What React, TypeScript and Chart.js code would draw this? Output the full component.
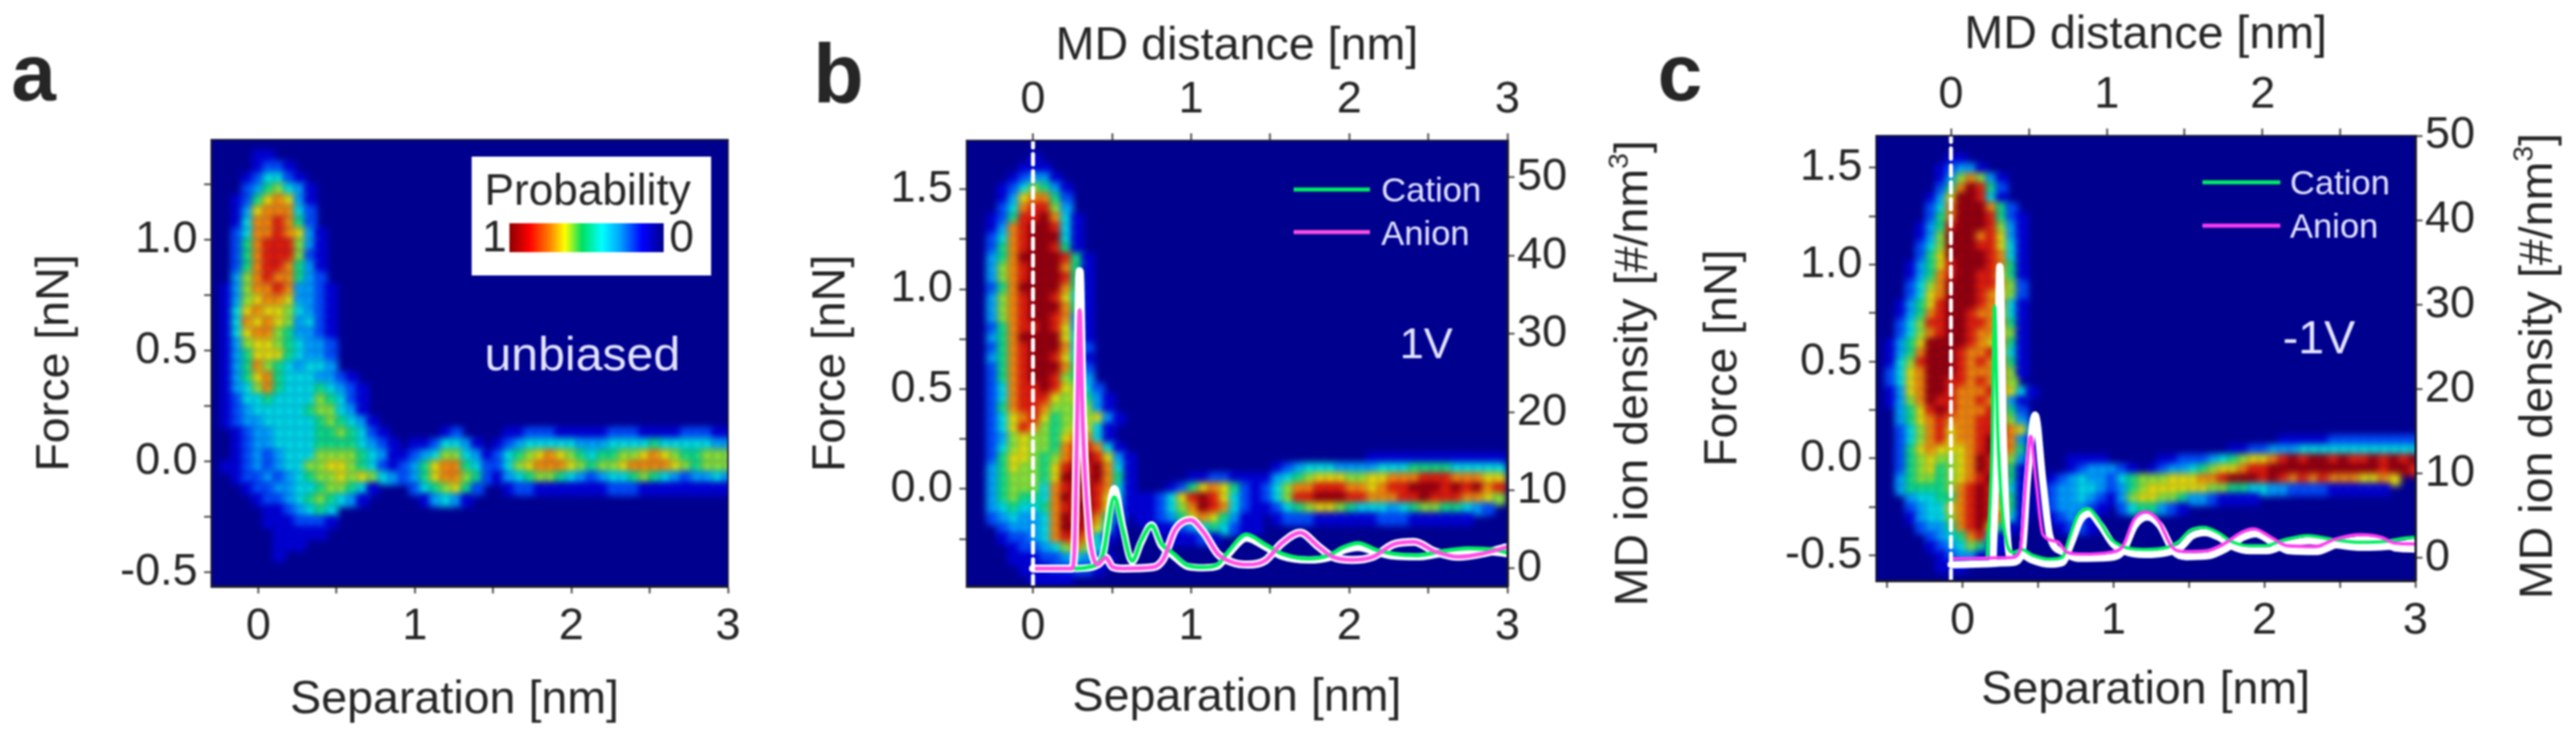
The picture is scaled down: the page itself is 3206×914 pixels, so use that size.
import React, { useEffect, useRef } from "react";
import { Chart, registerables } from "chart.js";
Chart.register(...registerables);

const FONT = "'Liberation Sans', Arial, sans-serif";
const INK = "#262626";
const PALE = "#e4e4ff";
const GREEN = "#00f060";
const MAGENTA = "#ff50e6";
const DEEP = "#00008f";

// heat colours, index = digit in the rows below (0 = background)
const heatPalette = ["", "#0000d8", "#0050ff", "#00a8ff", "#00e8e8", "#10e880", "#90f030", "#f0e800", "#ff9000", "#f02000", "#a00000"];

// ---------- panel a ----------
const heatCoreA = [
  "", "....11", "....1221", "...124421", "...2356431", "..12578731", "..13788842", "..14889852",
  "..248898731", "..258999631", "..258999621", "..258998531", "..368988532", ".13688983321", ".13678873321",
  ".14787764321", ".14878763421", ".14788653321", ".13677654332", ".13577754332", ".13586543443",
  ".1357854443321", ".13468544454321", ".12445444465421", ".12344444566431", ".123344444565431",
  "..123344445565421", "..1233444455554321", "..1232344466665431", ".1123234466776542", "..12232345667676431",
  "...1223344566541", "....12234565431", ".....1123454", ".....1112221", "......11111", "......111", "......1", "", "",
];
const heatBandA = [
  ".....12....1122211111222111122211",
  "..1124431.12344444333444454444433",
  "112346643124567876545566787655666",
  "123578854224678887656678888765666",
  ".23578865213456654323445654323343",
  "..2456752..1221111111222111111111",
  "...13431",
];

// ---------- panel b ----------
const heatCoreB = [
  "", "......1", ".....111", "....12331", "...1246531", "...1378852", "...2489963", "..12599a841", "..1389aa941",
  "..2489aaa41", "..2589aa951", "..358aaaa951", "..3689aaa851", "..3689aaa951", "..258aaaa851", "..3689aa9741",
  "..3689aaa851", "..3689aa9831", "..25899a9731", "..358aaaa741", "..2589aaa842", "..3589aa9741", "..2589aaa852",
  "..2589aa9653", "..24899a97642", "..248999767531", "..258998666631", "..2478975666731", "..247986567741",
  "..236766578841", "..2467665899841", "..257765689a9731", "..35766579a9a841", "..3566657aa9a851", "..35666489aa9841",
  "..3565548a9a9741", "..34544589aa9731", "..2343348a9a852", "...233348aa9741", "...12234899841", "....122346864",
  "....1112234321", ".....11122221", "......1111", "",
];
const heatBandB = [
  "......................1111111111111",
  ".............1234443333444555544444",
  ".....112211113456777667788899988877",
  "...12578752124688999887899aaa9a9a89",
  "112479a974212469 9aaa9988899a9998876".replace(" ", ""),
  "112468a984211245677654443456655432",
  "112357875311.1222111111222111111",
  ".11123454211",
  "...11121",
];

// ---------- panel c ----------
const heatCoreC = [
  "", "", ".......11", "......12331", "......1368631", "......258a952", ".....137aa941", ".....248aaa852",
  ".....258aaa9521", "....1359aaa9631", "....136aaa89731", "....246aaa99741", "....257aaaa9841", "...13579aaa9851",
  "...13589aa99751", "...2468aaa99862", "...2478aaa98762", "..13579aaa98841", "..13589aa988741", "..24699aa998851",
  "..24689aa988761", ".1357aaaa987851", ".1358aaa9889741", ".1469aaa9898851", ".2478aaa9888861", ".2478aa9989886",
  ".1378aa988898741", ".1368a998898731", "..3579a98889852", "..3578988899863", "..2468978899a873", "..246897889a9831",
  "..257877789a9851", "..25676678a98631", "..25675678a9951", "..356656789a951", "..35555689a9841", "...3445589a9851",
  "...2344789a9751", "...1344689a9841", "....233589a751", ".....23458941", ".....12346521", "......12331", "......111", "",
];
const heatBandC = [
  "........................11111222222222",
  "...................1122333444444444444",
  "...1111.....1122234567789a9aa9a99a9a9a",
  "...1233321.123345677899aaaaaaaaaaa9aa9",
  ".1234332456667778 89aaa9a989898887787".replace(" ", ""),
  "12334432356777777665544332222111111",
  "1233432136776653321111",
  "1233321.2455321",
  ".12321",
  "..1221",
];

// ---------- ion density, panel b ----------
const cationXB = [0.27, 0.35, 0.44, 0.514, 0.567, 0.627, 0.685, 0.75, 0.81, 0.89, 0.974, 1.08, 1.167, 1.23, 1.35, 1.467, 1.574, 1.745, 1.87, 1.96, 2.056, 2.17, 2.28, 2.43, 2.58, 2.75, 2.92, 3];
const cationYB = [0, 0.17, 1.7, 9.1, 5, 1, 3.6, 5.5, 3.2, 1.9, 0.45, 0.17, 0.5, 2.05, 4.35, 3.1, 1.9, 1.27, 1.7, 2.7, 3.25, 2.4, 1.9, 1.7, 2.2, 2.6, 2.4, 2.05];
const haloCationYB = [0, 0.1, 1.6, 10.2, 5.4, 0.9, 3.4, 5.6, 3, 1.6, 0.3, 0.1, 0.3, 1.7, 3.9, 2.8, 1.6, 1.1, 1.4, 2.3, 2.7, 2.1, 1.6, 1.5, 1.9, 2.2, 2.1, 1.9];
const anionXB = [0, 0.246, 0.263, 0.275, 0.295, 0.315, 0.353, 0.375, 0.407, 0.46, 0.503, 0.567, 0.76, 0.824, 0.9, 0.996, 1.08, 1.167, 1.253, 1.36, 1.467, 1.574, 1.69, 1.8, 1.895, 2.02, 2.15, 2.28, 2.41, 2.54, 2.69, 2.84, 2.99];
const anionYB = [0, 0, 2.9, 14, 33, 18, 5, 1.9, 0.5, 1.4, 0.2, 0, 0.17, 1.2, 5, 6.2, 4.6, 1.9, 0.86, 0.5, 1, 3.25, 4.6, 2.9, 1.5, 1.1, 1.5, 3.1, 3.4, 2.2, 1.5, 1.9, 2.7];
const haloAnionYB = [0, 0, 3, 16, 38, 20, 5, 1.9, 0.5, 1.4, 0.2, 0, 0.17, 1.2, 5, 6.2, 4.6, 1.9, 0.86, 0.5, 1, 3.25, 4.6, 2.9, 1.5, 1.1, 1.5, 3.1, 3.4, 2.2, 1.5, 1.9, 2.7];

// ---------- ion density, panel c ----------
const cationXC = [0.233, 0.262, 0.28, 0.3, 0.327, 0.356, 0.4, 0.456, 0.52, 0.635, 0.714, 0.758, 0.814, 0.88, 0.95, 1.027, 1.105, 1.24, 1.396, 1.463, 1.53, 1.62, 1.71, 1.8, 1.91, 2.02, 2.13, 2.29, 2.447, 2.63, 2.78, 2.92, 2.98];
const cationYC = [0, 12, 29.8, 15, 6, 1.9, 0.6, 0.95, 0.3, -0.2, 0, 2.2, 5, 5.8, 4.4, 2.2, 1.3, 0.95, 1.26, 1.9, 3.15, 3.56, 3, 1.9, 1.4, 1.4, 2.05, 2.6, 2.15, 1.8, 1.9, 2.3, 2.4];
const haloCationXC = [0.27, 0.295, 0.314, 0.335, 0.36, 0.39, 0.456, 0.52, 0.635, 0.714, 0.77, 0.83, 0.89, 0.96, 1.04, 1.12, 1.24, 1.4, 1.48, 1.545, 1.63, 1.72, 1.81, 1.92, 2.03, 2.14, 2.3, 2.46, 2.64, 2.79, 2.98];
const haloCationYC = [-0.6, 15, 34.5, 15, 3, -0.3, 0.3, -0.3, -0.8, -0.6, 1.6, 4.4, 5.2, 3.8, 1.6, 0.7, 0.35, 0.66, 1.3, 2.55, 2.96, 2.4, 1.3, 0.8, 0.8, 1.45, 2, 1.55, 1.2, 1.3, 1.8];
const anionXC = [0, 0.39, 0.445, 0.48, 0.512, 0.546, 0.59, 0.68, 0.747, 0.837, 1.016, 1.105, 1.172, 1.25, 1.33, 1.418, 1.5, 1.64, 1.75, 1.866, 1.944, 2.045, 2.157, 2.335, 2.47, 2.626, 2.76, 2.85, 2.98];
const anionYC = [-0.15, 0, 0.95, 9, 14.35, 9, 2.7, 1.9, 0.6, 0.4, 0.6, 1.4, 4.4, 5.4, 4.4, 1.26, 0.7, 0.8, 1.6, 3, 3.4, 2.5, 1.4, 1.3, 2.2, 2.7, 2.4, 1.7, 1.6];
const haloAnionXC = [0, 0.39, 0.456, 0.49, 0.54, 0.59, 0.635, 0.725, 0.814, 1.016, 1.105, 1.18, 1.26, 1.34, 1.43, 1.51, 1.65, 1.76, 1.875, 1.955, 2.055, 2.17, 2.345, 2.48, 2.64, 2.77, 2.86, 2.98];
const haloAnionYC = [-0.85, -0.6, 0.5, 9, 16.9, 9, 2.5, 0.6, -0.1, 0, 0.8, 3.8, 4.8, 3.8, 0.7, 0.1, 0.2, 1, 2.4, 2.8, 1.9, 0.8, 0.7, 1.6, 2.1, 1.8, 1.1, 1];

// ---------- tick settings ----------
const bottomStep = 0.5;
const forceStep = 0.25;
const densityStep = 10;

const pts = (xs: number[], ys: number[]) => xs.map((x, i) => ({ x, y: ys[i] }));

function heatDataset(core: string[], band: string[], bandCol: number, bandRow: number, x0: number, dx: number, y0: number, dy: number, radius: number) {
  const data: { x: number; y: number }[] = [];
  const colors: string[] = [];
  core.forEach((row, r) => {
    const other = band[r - bandRow] || "";
    const len = Math.max(row.length, bandCol + other.length);
    for (let i = 0; i < len; i++) {
      const a = i < row.length ? parseInt(row[i], 16) || 0 : 0;
      const b = i >= bandCol && i - bandCol < other.length ? parseInt(other[i - bandCol], 16) || 0 : 0;
      const v = Math.max(a, b);
      if (v > 0) {
        data.push({ x: x0 + (i + 0.5) * dx, y: y0 - (r + 0.5) * dy });
        colors.push(heatPalette[v]);
      }
    }
  });
  return {
    label: "Probability", data, order: 20, xAxisID: "x", yAxisID: "y", showLine: false,
    pointStyle: "rect", pointRadius: radius, pointBorderWidth: 0, pointHoverRadius: radius, pointBackgroundColor: colors,
  };
}

const lineSet = (label: string, data: any[], color: string, width: number, order: number) => ({
  label, data, order, xAxisID: "xTop", yAxisID: "yRight", showLine: true, borderColor: color, borderWidth: width,
  pointRadius: 0, cubicInterpolationMode: "monotone", borderJoinStyle: "round", borderCapStyle: "round",
});

type TextItem = { t: string; x: number; y: number; size: number; color: string; weight?: string; rot?: boolean; sup?: [string, string] };

function decoPlugin(items: TextItem[], lines: [number, number, number, string][], box: boolean, ox: number) {
  return {
    id: "deco",
    beforeDatasetsDraw(chart: any) {
      const { ctx, chartArea: c } = chart;
      ctx.save();
      ctx.fillStyle = DEEP;
      ctx.fillRect(c.left, c.top, c.right - c.left, c.bottom - c.top);
      ctx.restore();
    },
    beforeDatasetDraw(chart: any, args: any) {
      if (args.index === 0) { chart.ctx.save(); chart.ctx.filter = "blur(4px)"; }
    },
    afterDatasetDraw(chart: any, args: any) {
      if (args.index === 0) chart.ctx.restore();
    },
    afterDatasetsDraw(chart: any) {
      const { ctx, chartArea: c } = chart;
      ctx.save();
      ctx.strokeStyle = "#1a1a33";
      ctx.lineWidth = 2;
      ctx.strokeRect(c.left, c.top, c.right - c.left, c.bottom - c.top);
      if (box) {
        ctx.fillStyle = "#fff";
        ctx.fillRect(587 - ox, 195, 298, 148);
        const g = ctx.createLinearGradient(634 - ox, 0, 826 - ox, 0);
        const stops: [number, string][] = [[0, "#8b0000"], [0.13, "#ff0000"], [0.26, "#ff8000"], [0.36, "#ffff00"], [0.47, "#00e060"], [0.6, "#00ffff"], [0.72, "#00a0ff"], [0.86, "#0000ff"], [1, "#00008b"]];
        stops.forEach(([p, col]) => g.addColorStop(p, col));
        ctx.fillStyle = g;
        ctx.fillRect(634 - ox, 278, 192, 36);
      }
      lines.forEach(([x1, x2, y, col]) => {
        ctx.strokeStyle = col;
        ctx.lineWidth = 5;
        ctx.beginPath();
        ctx.moveTo(x1 - ox, y);
        ctx.lineTo(x2 - ox, y);
        ctx.stroke();
      });
      items.forEach((it) => {
        ctx.save();
        ctx.fillStyle = it.color;
        ctx.font = `${it.weight || "normal"} ${it.size}px ${FONT}`;
        ctx.textBaseline = "alphabetic";
        ctx.translate(it.x - ox, it.y);
        if (it.rot) ctx.rotate(-Math.PI / 2);
        ctx.fillText(it.t, 0, 0);
        if (it.sup) {
          let w = ctx.measureText(it.t).width;
          ctx.font = `${Math.round(it.size * 0.6)}px ${FONT}`;
          ctx.fillText(it.sup[0], w, -it.size * 0.42);
          w += ctx.measureText(it.sup[0]).width;
          ctx.font = `${it.size}px ${FONT}`;
          ctx.fillText(it.sup[1], w, 0);
        }
        ctx.restore();
      });
      ctx.restore();
    },
  };
}

const tickFont = { family: FONT, size: 56 };
const titleFont = { family: FONT, size: 58 };
const axisGrid = { drawOnChartArea: false, drawTicks: true, tickLength: 9, tickColor: "#333", tickWidth: 2 };
const axisBorder = { display: true, color: "#111", width: 3 };
const fixH = (h: number) => (s: any) => { s.height = h; };
const fixW = (w: number) => (s: any) => { s.width = w; };
const intLabel = (v: any) => (Number.isInteger(v) ? String(v) : "");
const forceLabel = (v: any) => (Math.abs((v * 2) % 1) < 1e-6 ? Number(v).toFixed(1) : "");

function xAxis(min: number, max: number, pos: string, size: number, title: string | null, titlePad: any, pad: number) {
  return {
    type: "linear", position: pos, min, max, afterFit: fixH(size),
    grid: axisGrid, border: axisBorder,
    ticks: { stepSize: bottomStep, includeBounds: false, autoSkip: false, maxRotation: 0, callback: intLabel, font: tickFont, color: INK, padding: pad },
    title: title ? { display: true, text: title, font: titleFont, color: INK, padding: titlePad } : { display: false },
  };
}
function yForce(min: number, max: number, size: number, titleTop: number) {
  return {
    type: "linear", position: "left", min, max, afterFit: fixW(size),
    grid: axisGrid, border: axisBorder,
    ticks: { stepSize: forceStep, includeBounds: false, autoSkip: false, callback: forceLabel, font: tickFont, color: INK, padding: 8 },
    title: { display: true, text: "Force [nN]", font: titleFont, color: INK, padding: { top: titleTop, bottom: 0 } },
  };
}
function yDensity(min: number, max: number, size: number) {
  return {
    type: "linear", position: "right", min, max, afterFit: fixW(size),
    grid: axisGrid, border: axisBorder,
    ticks: { stepSize: densityStep, includeBounds: false, autoSkip: false, callback: intLabel, font: tickFont, color: INK, padding: 3 },
  };
}

function baseOptions(scales: any, padding: any) {
  return {
    responsive: false, animation: false, maintainAspectRatio: false, events: [],
    layout: { padding },
    plugins: { legend: { display: false }, tooltip: { enabled: false } },
    scales,
  };
}

export default function App() {
  const ra = useRef<HTMLCanvasElement>(null);
  const rb = useRef<HTMLCanvasElement>(null);
  const rc = useRef<HTMLCanvasElement>(null);
  useEffect(() => {
    document.body.style.margin = "0";
    const a = new Chart(ra.current as any, {
      type: "scatter",
      data: { datasets: [heatDataset(heatCoreA, heatBandA, 17, 26, -0.3, 0.0667, 1.45, 0.05, 11)] as any },
      options: baseOptions(
        { x: xAxis(-0.3, 3, "bottom", 184, null, 0, 8), y: yForce(-0.563, 1.45, 263, 34) },
        { top: 174, right: 94, left: 0, bottom: 0 },
      ) as any,
      plugins: [decoPlugin([
        { t: "a", x: 14, y: 125, size: 100, color: INK, weight: "bold" },
        { t: "Separation [nm]", x: 361, y: 888, size: 58, color: INK },
        { t: "Probability", x: 603, y: 255, size: 55, color: INK },
        { t: "1", x: 600, y: 313, size: 55, color: INK },
        { t: "0", x: 833, y: 313, size: 55, color: INK },
        { t: "unbiased", x: 603, y: 461, size: 60, color: PALE },
      ], [], true, 0)] as any,
    });
    const b = new Chart(rb.current as any, {
      type: "scatter",
      data: {
        datasets: [
          heatDataset(heatCoreB, heatBandB, 16, 31, -0.42, 0.0667, 1.725, 0.05, 11),
          lineSet("Cation halo", pts(cationXB, haloCationYB), "#ffffff", 9, 9),
          lineSet("Anion halo", pts(anionXB, haloAnionYB), "#ffffff", 10, 8),
          lineSet("Cation", pts(cationXB, cationYB), GREEN, 5, 7),
          lineSet("Anion", pts(anionXB, anionYB), MAGENTA, 5, 6),
          { ...lineSet("Zero", [{ x: 0, y: -2.26 }, { x: 0, y: 54.7 }], "#ffffff", 5, 5), borderDash: [13, 8] },
        ] as any,
      },
      options: baseOptions(
        {
          x: xAxis(-0.42, 3, "bottom", 184, "Separation [nm]", { top: 0, bottom: 10 }, 8),
          xTop: xAxis(-0.42, 3, "top", 175, "MD distance [nm]", { top: 23, bottom: 0 }, 8),
          y: yForce(-0.486, 1.743, 203, 0),
          yRight: yDensity(-2.26, 54.7, 204),
        },
        0,
      ) as any,
      plugins: [decoPlugin([
        { t: "b", x: 1012, y: 127, size: 103, color: INK, weight: "bold" },
        { t: "Cation", x: 1719, y: 251, size: 43, color: PALE },
        { t: "Anion", x: 1719, y: 305, size: 43, color: PALE },
        { t: "1V", x: 1742, y: 446, size: 54, color: PALE },
        { t: "MD ion density [#/nm", x: 2050, y: 755, size: 58, color: INK, rot: true, sup: ["3", "]"] },
      ], [[1610, 1705, 236, GREEN], [1610, 1705, 289, MAGENTA]], false, 1000)] as any,
    });
    const c = new Chart(rc.current as any, {
      type: "scatter",
      data: {
        datasets: [
          heatDataset(heatCoreC, heatBandC, 16, 31, -0.573, 0.0667, 1.665, 0.05, 10.5),
          lineSet("Cation halo", pts(haloCationXC, haloCationYC), "#ffffff", 9, 9),
          lineSet("Anion halo", pts(haloAnionXC, haloAnionYC), "#ffffff", 9, 8),
          lineSet("Cation", pts(cationXC, cationYC), GREEN, 4, 7),
          lineSet("Anion", pts(anionXC, anionYC), "#ff3cf0", 4, 6),
          { ...lineSet("Zero", [{ x: 0, y: -2.74 }, { x: 0, y: 50 }], "#ffffff", 5, 5), borderDash: [13, 8] },
        ] as any,
      },
      options: baseOptions(
        {
          x: xAxis(-0.573, 3, "bottom", 191, "Separation [nm]", { top: 0, bottom: 19 }, 8),
          xTop: xAxis(-0.48, 2.98, "top", 169, "MD distance [nm]", { top: 9, bottom: 0 }, 8),
          y: yForce(-0.63, 1.665, 285, 60),
          yRight: yDensity(-2.74, 50, 200),
        },
        0,
      ) as any,
      plugins: [decoPlugin([
        { t: "c", x: 2063, y: 125, size: 100, color: INK, weight: "bold" },
        { t: "Cation", x: 2850, y: 242, size: 43, color: PALE },
        { t: "Anion", x: 2850, y: 296, size: 43, color: PALE },
        { t: "-1V", x: 2841, y: 440, size: 58, color: PALE },
        { t: "MD ion density [#/nm", x: 3176, y: 746, size: 58, color: INK, rot: true, sup: ["3", "]"] },
      ], [[2741, 2838, 227, GREEN], [2741, 2838, 281, "#ff3cf0"]], false, 2050)] as any,
    });
    return () => { a.destroy(); b.destroy(); c.destroy(); };
  }, []);
  const abs = (left: number, width: number): React.CSSProperties => ({ position: "absolute", left, top: 0, width, height: 914 });
  return (
    <div style={{ position: "absolute", left: 0, top: 0, width: 3206, height: 914, background: "#fff", overflow: "hidden", filter: "blur(0.8px)" }}>
      <canvas ref={ra} width={1000} height={914} style={abs(0, 1000)} />
      <canvas ref={rb} width={1080} height={914} style={abs(1000, 1080)} />
      <canvas ref={rc} width={1156} height={914} style={abs(2050, 1156)} />
    </div>
  );
}
